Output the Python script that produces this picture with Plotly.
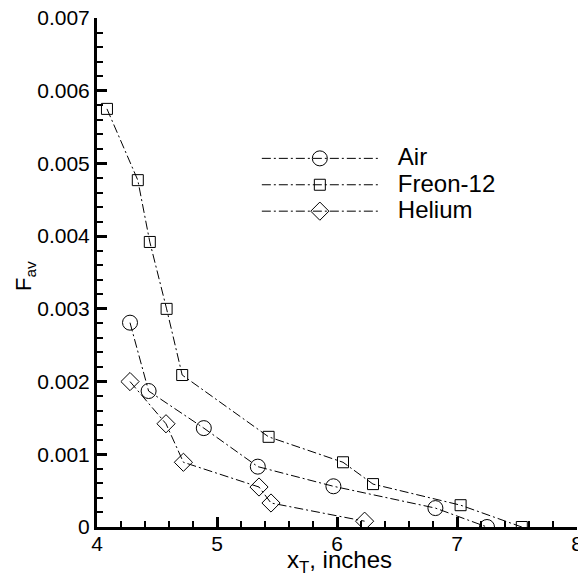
import plotly.graph_objects as go

air_x = [4.275, 4.43, 4.89, 5.34, 5.97, 6.82, 7.25]
air_y = [0.00281, 0.00187, 0.00136, 0.00083, 0.00056, 0.00026, 0.0]

freon_x = [4.083, 4.34, 4.44, 4.58, 4.71, 5.43, 6.05, 6.30, 7.03, 7.54]
freon_y = [0.00575, 0.00477, 0.00392, 0.00300, 0.00209, 0.00124, 0.00089, 0.00059, 0.00030, 0.0]

helium_x = [4.275, 4.575, 4.72, 5.35, 5.45, 6.23]
helium_y = [0.00200, 0.00142, 0.00089, 0.00055, 0.00033, 0.00008]

series_names = ["Air", "Freon-12", "Helium"]
y_tickvals = [0, 0.001, 0.002, 0.003, 0.004, 0.005, 0.006, 0.007]
y_ticktext = ["0", "0.001", "0.002", "0.003", "0.004", "0.005", "0.006", "0.007"]
x_tickvals = [4, 5, 6, 7, 8]

dash = "9px,3px,2px,3px"
FONT = "Liberation Sans, Arial, sans-serif"
NB = "\u00a0"

fig = go.Figure()
for name, xs, ys, sym, sz in [
    (series_names[0], air_x, air_y, "circle-open", 15),
    (series_names[1], freon_x, freon_y, "square-open", 11),
    (series_names[2], helium_x, helium_y, "diamond-open", 14),
]:
    fig.add_trace(go.Scatter(
        x=xs, y=ys, mode="lines+markers",
        name=NB * 3 + '<span style="font-size:24px">' + name + "</span>",
        line=dict(color="black", width=1, dash=dash),
        marker=dict(symbol=sym, size=sz, color="black", line=dict(width=1, color="black")),
    ))

# page body has an 8px margin, so the figure is 8px smaller and margins shifted
fig.update_layout(
    width=578, height=567,
    margin=dict(l=89, r=9, t=10, b=48),
    paper_bgcolor="white", plot_bgcolor="white",
    font=dict(family=FONT, size=21, color="black"),
    showlegend=True,
    legend=dict(x=0.333, y=0.760, xanchor="left", yanchor="top",
                bgcolor="rgba(0,0,0,0)", font=dict(size=18, family=FONT), itemwidth=116,
                tracegroupgap=0),
    annotations=[
        dict(text="x<sub>T</sub>, inches", xref="paper", yref="paper", x=0.505, y=-0.034,
             xanchor="center", yanchor="top", showarrow=False, font=dict(size=24, family=FONT)),
        dict(text="F<sub>av</sub>", xref="paper", yref="paper", x=-0.15, y=0.493,
             xanchor="center", yanchor="middle", textangle=-90, showarrow=False,
             font=dict(size=22, family=FONT)),
    ],
)
fig.update_xaxes(
    range=[4, 8], tickvals=x_tickvals, showgrid=False, zeroline=False, automargin=False,
    showline=True, linecolor="black", linewidth=3, ticklabeloverflow="allow",
    ticks="inside", ticklen=10, tickwidth=3, tickcolor="black", ticklabelstandoff=-4,
    minor=dict(dtick=0.2, ticks="inside", ticklen=6, tickwidth=1.5, tickcolor="black", showgrid=False),
    tickfont=dict(size=21),
)
fig.update_yaxes(
    range=[0, 0.007], tickvals=y_tickvals, ticktext=y_ticktext, showgrid=False, zeroline=False,
    automargin=False, ticklabeloverflow="allow",
    showline=True, linecolor="black", linewidth=3,
    ticks="inside", ticklen=10, tickwidth=3, tickcolor="black",
    minor=dict(dtick=0.0002, ticks="inside", ticklen=6, tickwidth=1.5, tickcolor="black", showgrid=False),
    tickfont=dict(size=21),
)

fig.write_html("out.html")
